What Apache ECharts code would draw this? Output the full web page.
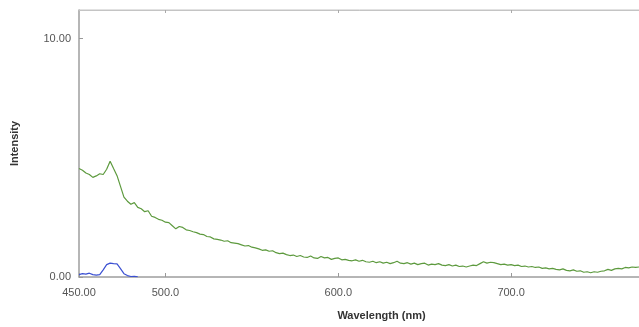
<!DOCTYPE html>
<html>
<head>
<meta charset="utf-8">
<script src="https://cdn.jsdelivr.net/npm/echarts@6/dist/echarts.min.js"></script>
<style>
  html, body { margin: 0; padding: 0; background: #fff; }
  #chart { width: 639px; height: 327px; }
</style>
</head>
<body>
<div id="chart"></div>
<script>
// wavelength grid (nm) for the green trace
var greenWavelengths = [
  450,452,454,456,458,460,462,464,466,468,470,472,474,476,478,480,482,484,486,488,
  490,492,494,496,498,500,502,504,506,508,510,512,514,516,518,520,522,524,526,528,
  530,532,534,536,538,540,542,544,546,548,550,552,554,556,558,560,562,564,566,568,
  570,572,574,576,578,580,582,584,586,588,590,592,594,596,598,600,602,604,606,608,
  610,612,614,616,618,620,622,624,626,628,630,632,634,636,638,640,642,644,646,648,
  650,652,654,656,658,660,662,664,666,668,670,672,674,676,678,680,682,684,686,688,
  690,692,694,696,698,700,702,704,706,708,710,712,714,716,718,720,722,724,726,728,
  730,732,734,736,738,740,742,744,746,748,750,752,754,756,758,760,762,764,766,768,
  770,772,774,776
];
var greenIntensity = [
  4.55,4.48,4.36,4.30,4.18,4.24,4.33,4.30,4.52,4.86,4.55,4.25,3.80,3.35,3.18,3.05,3.12,2.92,2.86,2.74,
  2.78,2.55,2.50,2.42,2.38,2.30,2.28,2.15,2.02,2.12,2.08,1.98,1.95,1.90,1.86,1.80,1.78,1.70,1.68,1.60,
  1.58,1.55,1.50,1.52,1.44,1.42,1.40,1.35,1.30,1.32,1.25,1.22,1.18,1.12,1.14,1.08,1.10,1.02,0.98,1.00,
  0.94,0.90,0.92,0.86,0.90,0.84,0.82,0.88,0.80,0.78,0.86,0.80,0.82,0.74,0.78,0.80,0.72,0.74,0.70,0.68,
  0.72,0.66,0.70,0.64,0.62,0.66,0.60,0.64,0.58,0.62,0.56,0.60,0.66,0.58,0.56,0.60,0.54,0.58,0.52,0.56,
  0.58,0.50,0.54,0.52,0.56,0.50,0.48,0.52,0.46,0.50,0.44,0.46,0.42,0.46,0.50,0.48,0.56,0.64,0.58,0.62,
  0.60,0.56,0.52,0.54,0.50,0.52,0.48,0.50,0.44,0.46,0.42,0.44,0.40,0.42,0.36,0.38,0.34,0.36,0.32,0.30,
  0.34,0.28,0.26,0.30,0.24,0.26,0.20,0.22,0.18,0.22,0.20,0.24,0.26,0.32,0.28,0.34,0.36,0.34,0.40,0.38,
  0.42,0.40,0.42,0.44
];
var blueWavelengths = [450,452,454,456,458,460,462,464,466,468,470,472,474,476,478,480,482,484];
var blueIntensity = [0.10,0.14,0.12,0.16,0.10,0.08,0.10,0.30,0.52,0.58,0.56,0.55,0.35,0.14,0.06,0.02,0.03,0.01];

var xTicks = [450, 500, 600, 700];
var yTicks = [0, 10];

function pairs(xs, ys) {
  return xs.map(function (x, i) { return [x, ys[i]]; });
}

var font = '"Liberation Sans Narrow", "Arial Narrow", "Liberation Sans", sans-serif';
var chart = echarts.init(document.getElementById('chart'));

chart.setOption({
  animation: false,
  grid: {
    left: 79, top: 10, bottom: 50, width: 605,
    outerBoundsMode: 'none',
    show: true, borderColor: '#c4c4c4', borderWidth: 1
  },
  xAxis: [{
    type: 'value', min: 450, max: 800, position: 'bottom',
    name: 'Wavelength (nm)', nameLocation: 'middle', nameGap: 33,
    nameTextStyle: { fontFamily: font, fontWeight: 'bold', fontSize: 11, color: '#333' },
    axisLine: { lineStyle: { color: '#a8a8a8', width: 1.5 } },
    axisTick: { inside: true, length: 4, customValues: xTicks, lineStyle: { color: '#999' } },
    axisLabel: {
      customValues: xTicks, margin: 10, fontFamily: font, fontSize: 11, color: '#555',
      formatter: function (v) { return v === 450 ? '450.00' : v.toFixed(1); }
    },
    splitLine: { show: false }
  }, {
    type: 'value', min: 450, max: 800, position: 'top',
    axisLine: { lineStyle: { color: '#c4c4c4' } },
    axisTick: { inside: true, length: 3, customValues: [500, 600, 700], lineStyle: { color: '#aaa' } },
    axisLabel: { show: false },
    splitLine: { show: false }
  }],
  yAxis: {
    type: 'value', min: 0, max: 11.2,
    name: 'Intensity', nameLocation: 'middle', nameGap: 59, nameRotate: 90,
    nameTextStyle: { fontFamily: font, fontWeight: 'bold', fontSize: 11, color: '#333' },
    axisLine: { show: true, lineStyle: { color: '#a8a8a8', width: 1.5 } },
    axisTick: { show: true, inside: true, length: 4, customValues: yTicks, lineStyle: { color: '#999' } },
    axisLabel: {
      customValues: yTicks, margin: 8, fontFamily: font, fontSize: 11, color: '#555',
      formatter: function (v) { return v.toFixed(2); }
    },
    splitLine: { show: false }
  },
  series: [{
    type: 'line', name: 'green', xAxisIndex: 0, showSymbol: false,
    data: pairs(greenWavelengths, greenIntensity),
    lineStyle: { color: '#5d9a3e', width: 1.2 }
  }, {
    type: 'line', name: 'blue', xAxisIndex: 0, showSymbol: false,
    data: pairs(blueWavelengths, blueIntensity),
    lineStyle: { color: '#3b50d2', width: 1.2 }
  }]
});
</script>
</body>
</html>
